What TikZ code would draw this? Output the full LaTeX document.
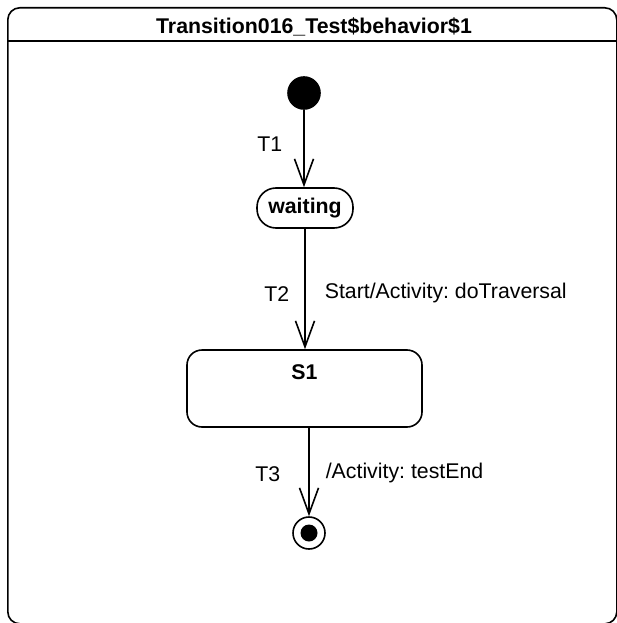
\documentclass[tikz,border=0pt]{standalone}
\usepackage{fontspec}
\setmainfont{Liberation Sans}
\usetikzlibrary{arrows.meta, positioning}
\frenchspacing

\begin{document}
\begin{tikzpicture}[>={Straight Barb[length=26pt, width=19pt]}, x=1pt, y=-1pt, line width=1.6pt,
    every node/.style={font=\fontsize{21.3}{25}\selectfont, inner sep=0pt},
    stbox/.style={draw, rounded corners=#1, fill=white},
    pseudo/.style={circle, draw, minimum size=32pt}]
    \useasboundingbox (0,0) rectangle (616,623);

    % 1. Khung ngoài và tiêu đề
    \node (frame) [draw, rounded corners=12pt, minimum width=609pt, minimum height=616pt,
        anchor=north west] at (7,7) {};
    \node (title) at (314,27) {\textbf{Transition016\_Test\$behavior\$1}};
    \draw (frame.west |- 0,41) -- (frame.east |- 0,41);

    % 2. Các trạng thái
    \node (init) [pseudo, fill=black] at (304,93) {};
    \node (wait) [stbox=19pt, minimum width=96pt, minimum height=40pt] at (305,208) {\textbf{waiting}};
    \node (s1) [stbox=15pt, minimum width=235pt, minimum height=77pt] at (304.5,388.5) {};
    \node (s1name) [below=15pt of s1.north] {\textbf{S1}};
    \node (fin) [pseudo] at (309,533) {};
    \fill (fin) circle[radius=8.5];

    % 3. Các chuyển tiếp
    \draw[->] (init) -- (init |- wait.north) node[pos=0.44, left=21pt] {T1};
    \draw[->] (wait) -- (wait |- s1.north)
        node[pos=0.54, left=15pt] {T2}
        node[pos=0.54, right=19pt, yshift=1pt] {Start/Activity: doTraversal};
    \draw[->] (s1.south -| fin) -- (fin)
        node[pos=0.52, left=28pt] {T3}
        node[pos=0.52, right=16pt, yshift=1pt] {/Activity: testEnd};
\end{tikzpicture}
\end{document}
